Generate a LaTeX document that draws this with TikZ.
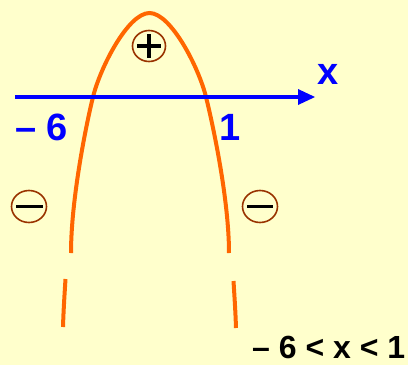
\documentclass[tikz,border=0pt]{standalone}
\usepackage{fontspec}
\usetikzlibrary{shapes.geometric}
\setmainfont{Liberation Sans}
\definecolor{bg}{HTML}{FFFFCC}
\definecolor{curve}{HTML}{FF6600}
\definecolor{ring}{HTML}{993300}
\begin{document}
\begin{tikzpicture}[x=1pt,y=-1pt,
  curvestyle/.style={draw=curve,line width=4pt},
  axisstyle/.style={draw=blue,line width=4pt},
  bluelabel/.style={text=blue,inner sep=0pt,font=\fontsize{38}{40}\selectfont\bfseries},
  answer/.style={text=black,inner sep=0pt,font=\fontsize{32}{34}\selectfont\bfseries},
  signring/.style={draw=ring,line width=1.6pt,fill=bg},
  signbar/.style={draw=black,line width=3.6pt}]
\fill[bg] (0,0) rectangle (408,365);
\useasboundingbox (0,0) rectangle (408,365);
% parabola
\coordinate (pl) at (71,253);
\coordinate (cl) at (93,97);
\coordinate (top) at (149.5,13);
\coordinate (cr) at (206,97);
\coordinate (pr) at (229,253);
\draw[curvestyle] (pl) .. controls (71,200) and (86,125) .. (cl)
  .. controls (100,68) and (128,13) .. (top)
  .. controls (171,13) and (199,68) .. (cr)
  .. controls (213,125) and (229,200) .. (pr);
\coordinate (la) at (65.5,279); \coordinate (lb) at (63,327);
\coordinate (ra) at (233.5,281); \coordinate (rb) at (236,328);
\draw[curvestyle] (la) .. controls (64.5,295) and (63.5,310) .. (lb);
\draw[curvestyle] (ra) .. controls (234.5,297) and (235.5,312) .. (rb);
% axis
\coordinate (ax0) at (15,97);
\coordinate (ax1) at (300,97);
\draw[axisstyle] (ax0) -- (ax1);
\fill[blue] (298,89) -- (315,97) -- (298,105) -- cycle;
% labels
\node[bluelabel,anchor=base] (xl) at (328.5,84) {x};
\node[bluelabel,anchor=base west] (m6) at (15,140) {– 6};
\node[bluelabel,anchor=base] (one) at (230,140) {1};
\node[answer,anchor=base west] (ans) at (252,358) {– 6 < x < 1};
% signs
\node[signring,ellipse,minimum width=33pt,minimum height=31pt,inner sep=0pt] (plus) at (149,46) {};
\draw[signbar] (137,46) -- (161,46);
\draw[signbar] (149,34) -- (149,58);
\node[signring,ellipse,minimum width=35pt,minimum height=32pt,inner sep=0pt] (mL) at (29,206.5) {};
\draw[signbar] (16,206.5) -- (43,206.5);
\node[signring,ellipse,minimum width=35pt,minimum height=32pt,inner sep=0pt] (mR) at (260,206.5) {};
\draw[signbar] (247,206.5) -- (273,206.5);
\end{tikzpicture}
\end{document}
